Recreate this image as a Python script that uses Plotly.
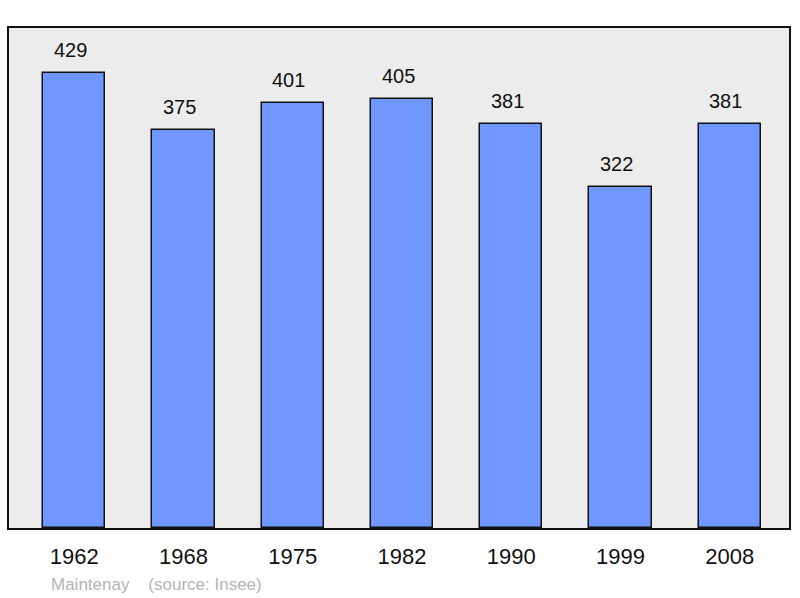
import plotly.graph_objects as go

years = ["1962", "1968", "1975", "1982", "1990", "1999", "2008"]
population = [429, 375, 401, 405, 381, 322, 381]
footer_text = "Maintenay    (source: Insee)"

fig = go.Figure()
fig.add_trace(go.Bar(
    x=list(range(len(years))), y=population,
    width=0.57,
    marker=dict(color="#7096ff", line=dict(color="#111111", width=1.5)),
    hoverinfo="skip",
))

for i, v in enumerate(population):
    fig.add_annotation(x=i, y=v, text=str(v), showarrow=False,
                       yanchor="bottom", yshift=10, xshift=-4,
                       font=dict(size=20, color="#111111"))

fig.add_annotation(xref="paper", yref="paper", x=(49 - 9) / 782, y=-(584 - 528) / 500,
                   xanchor="left", yanchor="middle", text=footer_text,
                   showarrow=False, font=dict(size=17, color="#b4b4b4"))

fig.update_layout(
    width=800, height=598,
    margin=dict(l=9, r=9, t=28, b=70),
    paper_bgcolor="white", plot_bgcolor="#ececec",
    font=dict(family="Liberation Sans, Arial, sans-serif"),
    showlegend=False,
    bargap=0,
)
fig.update_xaxes(range=[-0.598, 6.543],
                 tickmode="array", tickvals=list(range(len(years))), ticktext=years,
                 showline=True, mirror=True, linecolor="#111111", linewidth=2,
                 ticks="outside", ticklen=8, tickcolor="rgba(0,0,0,0)",
                 tickfont=dict(size=22, color="#111111"), showgrid=False, zeroline=False)
fig.update_yaxes(range=[0, 471.5], showline=True, mirror=True,
                 linecolor="#111111", linewidth=2, showticklabels=False,
                 showgrid=False, zeroline=False, ticks="")

fig.write_html("out.html", config={"displayModeBar": False},
               post_script="document.body.style.margin='0';")
